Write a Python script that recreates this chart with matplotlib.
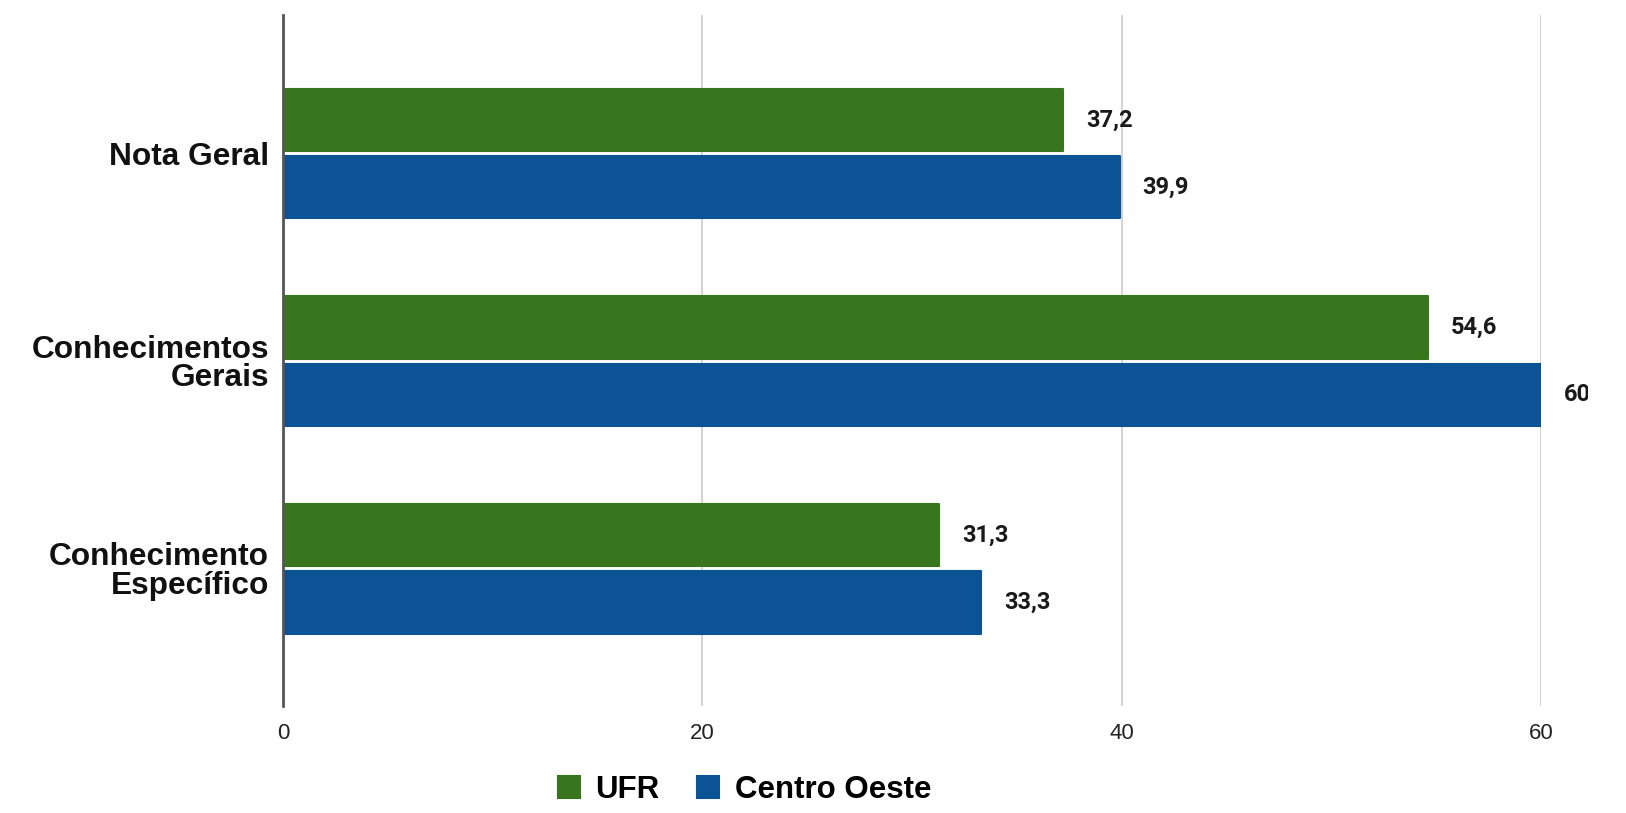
import numpy as np
import matplotlib
matplotlib.use('Agg')
import matplotlib.pyplot as plt
from matplotlib.patches import Rectangle

categorias = ['Nota Geral', 'Conhecimentos\nGerais', 'Conhecimento\nEspecífico']
series = ['UFR', 'Centro Oeste']
ufr = [37.2, 54.6, 31.3]
centro_oeste = [39.9, 60.0, 33.3]
xticks = [0, 20, 40, 60]

cores = ['#38761d', '#0b5394']

fig = plt.figure(figsize=(16.26, 8.13), dpi=100)
ax = fig.add_axes([0.174, 0.1316, 0.7737, 0.8499])

idx = np.arange(len(categorias))
altura = 0.30
desloc = 0.162

clip = Rectangle((0, 0), 1588 / 1626, 1, transform=fig.transFigure)

for valores, off, cor, nome in [(ufr, -desloc, cores[0], series[0]),
                                (centro_oeste, desloc, cores[1], series[1])]:
    barras = ax.barh(idx + off, valores, altura, color=cor, edgecolor=cor,
                     linewidth=1.5, label=nome, zorder=3)
    for b in barras:
        b.set_joinstyle('round')
    for y, v in zip(idx + off, valores):
        txt = ('%g' % v).replace('.', ',')
        t = ax.annotate(txt, (v, y), xytext=(16.5, 0), textcoords='offset points',
                        va='center', ha='left', fontsize=17, fontweight='bold',
                        family='Roboto', color='#1a1a1a', annotation_clip=False)
        t.set_clip_on(True)
        t.set_clip_path(clip)

ax.set_xlim(0, 60)
ax.set_ylim(2.66, -0.667)
ax.set_xticks(xticks)
ax.set_xticklabels([str(x) for x in xticks], fontsize=16, family='Liberation Sans',
                   color='#222222')
ax.set_yticks(idx)
ax.set_yticklabels(categorias, fontsize=22.8, fontweight='bold',
                   family='Liberation Sans', linespacing=0.92, color='#111111')
ax.tick_params(axis='both', length=0)
ax.tick_params(axis='y', pad=10)
ax.tick_params(axis='x', pad=12)

for s in ['top', 'right', 'bottom']:
    ax.spines[s].set_visible(False)
ax.spines['left'].set_color('#555555')
ax.spines['left'].set_linewidth(2)
ax.spines['left'].set_zorder(4)

ax.grid(axis='x', color='#cccccc', linewidth=1.2, zorder=0)
ax.grid(axis='y', visible=False)

leg = fig.legend(loc='center', bbox_to_anchor=(0.458, 0.028), ncol=2, frameon=False,
                 prop={'family': 'Liberation Sans', 'weight': 'bold', 'size': 22.5},
                 handlelength=0.7, handleheight=0.7, handletextpad=0.5,
                 columnspacing=1.2)

fig.savefig('out.png', dpi=100, facecolor='white')
